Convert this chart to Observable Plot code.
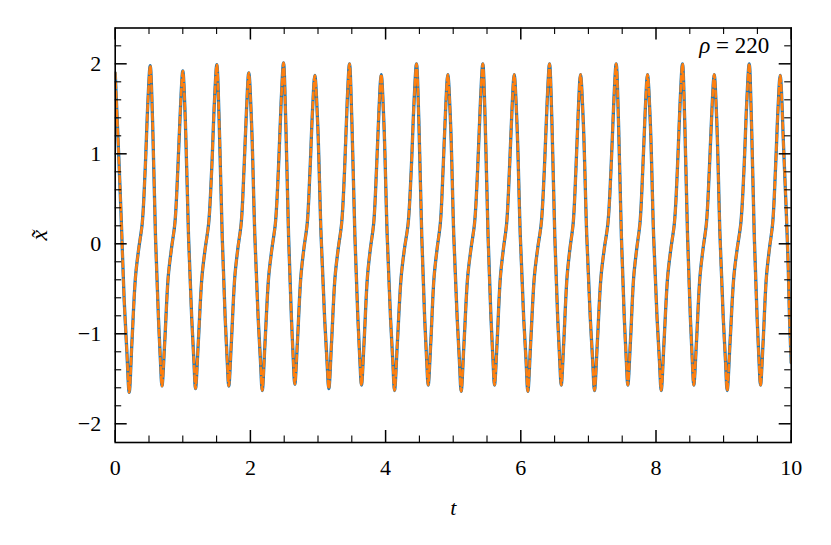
<!DOCTYPE html>
<html>
<head>
<meta charset="utf-8">
<script src="https://cdn.jsdelivr.net/npm/d3@7"></script>
<script src="https://cdn.jsdelivr.net/npm/@observablehq/plot@0.6"></script>
<style>
  html, body { margin: 0; padding: 0; background: #fff; }
  svg { display: block; }
  svg text { font-family: "Liberation Serif", "Times New Roman", serif !important; }
</style>
</head>
<body>
<div id="chart"></div>
<script>
// time samples (t)
const tSamples = [
  0.000, 0.050, 0.089, 0.133, 0.172,
  0.207, 0.247, 0.300, 0.347, 0.400, 0.443, 0.484, 0.518, 0.553, 0.596, 0.640, 0.669,
  0.692, 0.732, 0.784, 0.831, 0.883, 0.926, 0.966, 1.000, 1.038, 1.085, 1.132, 1.164,
  1.188, 1.229, 1.283, 1.330, 1.383, 1.427, 1.468, 1.503, 1.538, 1.583, 1.627, 1.657,
  1.680, 1.718, 1.769, 1.813, 1.864, 1.905, 1.943, 1.976, 2.016, 2.066, 2.115, 2.149,
  2.175, 2.216, 2.270, 2.317, 2.370, 2.414, 2.455, 2.490, 2.523, 2.565, 2.607, 2.635,
  2.657, 2.695, 2.746, 2.790, 2.841, 2.882, 2.920, 2.953, 2.994, 3.046, 3.098, 3.133,
  3.160, 3.200, 3.252, 3.298, 3.350, 3.393, 3.432, 3.466, 3.501, 3.546, 3.590, 3.620,
  3.643, 3.681, 3.731, 3.774, 3.824, 3.865, 3.903, 3.935, 3.974, 4.024, 4.073, 4.106,
  4.132, 4.174, 4.230, 4.278, 4.334, 4.379, 4.421, 4.457, 4.492, 4.535, 4.578, 4.608,
  4.630, 4.668, 4.717, 4.761, 4.810, 4.850, 4.888, 4.920, 4.960, 5.009, 5.059, 5.092,
  5.118, 5.160, 5.214, 5.262, 5.316, 5.361, 5.403, 5.438, 5.473, 5.516, 5.559, 5.589,
  5.611, 5.649, 5.698, 5.742, 5.791, 5.832, 5.870, 5.902, 5.942, 5.993, 6.043, 6.078,
  6.104, 6.146, 6.200, 6.248, 6.303, 6.348, 6.390, 6.425, 6.460, 6.503, 6.546, 6.576,
  6.598, 6.635, 6.684, 6.726, 6.775, 6.815, 6.852, 6.883, 6.924, 6.976, 7.028, 7.063,
  7.090, 7.132, 7.186, 7.234, 7.289, 7.334, 7.376, 7.411, 7.445, 7.488, 7.531, 7.561,
  7.583, 7.621, 7.670, 7.714, 7.763, 7.804, 7.842, 7.874, 7.915, 7.965, 8.016, 8.051,
  8.077, 8.118, 8.172, 8.219, 8.272, 8.316, 8.357, 8.392, 8.425, 8.467, 8.509, 8.537,
  8.559, 8.598, 8.650, 8.695, 8.746, 8.789, 8.828, 8.861, 8.899, 8.947, 8.995, 9.028,
  9.053, 9.095, 9.151, 9.200, 9.255, 9.301, 9.343, 9.379, 9.412, 9.454, 9.496, 9.524,
  9.546, 9.584, 9.633, 9.677, 9.726, 9.767, 9.805, 9.837, 9.890, 9.930, 9.956, 9.975, 10.000
];

// reference trajectory x~(t)
const xReference = [
  1.90, 1.02, 0.28, -0.63, -1.19,
  -1.65, -1.10, -0.37, -0.06, 0.23, 0.82, 1.58, 1.98, 1.36, 0.08, -0.83, -1.30,
  -1.58, -1.10, -0.37, -0.06, 0.23, 0.82, 1.52, 1.92, 1.36, 0.08, -0.83, -1.30,
  -1.61, -1.10, -0.37, -0.06, 0.23, 0.82, 1.58, 1.99, 1.36, 0.08, -0.83, -1.30,
  -1.58, -1.10, -0.37, -0.06, 0.23, 0.82, 1.50, 1.90, 1.36, 0.08, -0.83, -1.30,
  -1.63, -1.10, -0.37, -0.06, 0.23, 0.82, 1.58, 2.01, 1.36, 0.08, -0.83, -1.30,
  -1.56, -1.10, -0.37, -0.06, 0.23, 0.82, 1.50, 1.87, 1.36, 0.08, -0.83, -1.30,
  -1.61, -1.10, -0.37, -0.06, 0.23, 0.82, 1.58, 2.00, 1.36, 0.08, -0.83, -1.30,
  -1.57, -1.10, -0.37, -0.06, 0.23, 0.82, 1.50, 1.88, 1.36, 0.08, -0.83, -1.30,
  -1.63, -1.10, -0.37, -0.06, 0.23, 0.82, 1.58, 2.00, 1.36, 0.08, -0.83, -1.30,
  -1.57, -1.10, -0.37, -0.06, 0.23, 0.82, 1.50, 1.88, 1.36, 0.08, -0.83, -1.30,
  -1.64, -1.10, -0.37, -0.06, 0.23, 0.82, 1.58, 2.00, 1.36, 0.08, -0.83, -1.30,
  -1.57, -1.10, -0.37, -0.06, 0.23, 0.82, 1.50, 1.88, 1.36, 0.08, -0.83, -1.30,
  -1.64, -1.10, -0.37, -0.06, 0.23, 0.82, 1.58, 2.00, 1.36, 0.08, -0.83, -1.30,
  -1.57, -1.10, -0.37, -0.06, 0.23, 0.82, 1.50, 1.88, 1.36, 0.08, -0.83, -1.30,
  -1.63, -1.10, -0.37, -0.06, 0.23, 0.82, 1.58, 2.00, 1.36, 0.08, -0.83, -1.30,
  -1.57, -1.10, -0.37, -0.06, 0.23, 0.82, 1.50, 1.88, 1.36, 0.08, -0.83, -1.30,
  -1.63, -1.10, -0.37, -0.06, 0.23, 0.82, 1.58, 2.00, 1.36, 0.08, -0.83, -1.30,
  -1.57, -1.10, -0.37, -0.06, 0.23, 0.82, 1.50, 1.88, 1.36, 0.08, -0.83, -1.30,
  -1.63, -1.10, -0.37, -0.06, 0.23, 0.82, 1.58, 2.00, 1.36, 0.08, -0.83, -1.30,
  -1.57, -1.10, -0.37, -0.06, 0.23, 0.82, 1.50, 1.87, 1.03, 0.30, -0.26, -0.82, -1.32
];

// model prediction: indistinguishable from the reference in the picture
const xModel = xReference.slice();

const xMajorTicks = [0, 2, 4, 6, 8, 10];
const xMinorTicks = [0.5, 1, 1.5, 2.5, 3, 3.5, 4.5, 5, 5.5, 6.5, 7, 7.5, 8.5, 9, 9.5];
const yMajorTicks = [-2, -1, 0, 1, 2];
const yMinorTicks = [-1.8, -1.6, -1.4, -1.2, -0.8, -0.6, -0.4, -0.2, 0.2, 0.4, 0.6, 0.8, 1.2, 1.4, 1.6, 1.8, 2.2];
const annotation = "ρ = 220";

const refData = tSamples.map((t, i) => ({t, x: xReference[i]}));
const modelData = tSamples.map((t, i) => ({t, x: xModel[i]}));

const W = 831, H = 545;
const mL = 114.7, mR = 40.3, mT = 27.5, mB = 103;
const fw = W - mL - mR, fh = H - mT - mB;
const majorLen = 12, minorLen = 6.5;
const FONT = "Liberation Serif";
const fmt = d => (d < 0 ? "\u2212" + Math.abs(d) : String(d));

const plot = Plot.plot({
  width: W,
  height: H,
  marginLeft: mL,
  marginRight: mR,
  marginTop: mT,
  marginBottom: mB,
  style: {fontFamily: FONT, background: "white", overflow: "visible"},
  x: {domain: [0, 10], axis: null},
  y: {domain: [-2.208, 2.398], axis: null},
  marks: [
    Plot.line(refData, {x: "t", y: "x", stroke: "#1f77b4", strokeWidth: 3.3, curve: "catmull-rom", clip: true}),
    Plot.line(modelData, {x: "t", y: "x", stroke: "#ff7f0e", strokeWidth: 2.6, strokeDasharray: "6,3.4", curve: "catmull-rom", clip: true}),
    // ticks (inward, mirrored)
    Plot.tickX(xMajorTicks, {x: d => d, stroke: "black", strokeWidth: 1.5, insetTop: fh - majorLen}),
    Plot.tickX(xMinorTicks, {x: d => d, stroke: "black", strokeWidth: 1.1, insetTop: fh - minorLen}),
    Plot.tickX(xMajorTicks, {x: d => d, stroke: "black", strokeWidth: 1.5, insetBottom: fh - majorLen}),
    Plot.tickX(xMinorTicks, {x: d => d, stroke: "black", strokeWidth: 1.1, insetBottom: fh - minorLen}),
    Plot.tickY(yMajorTicks, {y: d => d, stroke: "black", strokeWidth: 1.5, insetRight: fw - majorLen}),
    Plot.tickY(yMinorTicks, {y: d => d, stroke: "black", strokeWidth: 1.1, insetRight: fw - minorLen}),
    Plot.tickY(yMajorTicks, {y: d => d, stroke: "black", strokeWidth: 1.5, insetLeft: fw - majorLen}),
    Plot.tickY(yMinorTicks, {y: d => d, stroke: "black", strokeWidth: 1.1, insetLeft: fw - minorLen}),
    Plot.frame({stroke: "black", strokeWidth: 1.6}),
    // tick labels
    Plot.text(xMajorTicks, {x: d => d, text: d => fmt(d), frameAnchor: "bottom", lineAnchor: "bottom", dy: 32, fontSize: 22, fontFamily: FONT, fill: "black"}),
    Plot.text(yMajorTicks, {y: d => d, text: d => fmt(d), frameAnchor: "left", textAnchor: "end", lineAnchor: "middle", dx: -14, fontSize: 22, fontFamily: FONT, fill: "black"}),
    // axis labels
    Plot.text(["t"], {text: d => d, frameAnchor: "bottom", lineAnchor: "bottom", dy: 72, fontSize: 22, fontStyle: "italic", fontFamily: FONT, fill: "black"}),
    Plot.text(["x\u0303"], {text: d => d, frameAnchor: "left", lineAnchor: "bottom", textAnchor: "middle", rotate: -90, dx: -68, fontSize: 24, fontStyle: "italic", fontFamily: FONT, fill: "black"}),
    // annotation
    Plot.text([annotation], {text: d => d, frameAnchor: "top-right", textAnchor: "end", lineAnchor: "bottom", dx: -22, dy: 25, fontSize: 23, fontFamily: FONT, fill: "black"})
  ]
});

// italicise the rho symbol in the annotation
d3.select(plot).selectAll("text").filter(function() { return this.textContent === annotation; })
  .each(function() {
    const el = d3.select(this);
    el.text(null);
    el.append("tspan").attr("font-style", "italic").text("ρ");
    el.append("tspan").text(" = 220");
  });

document.getElementById("chart").appendChild(plot);
</script>
</body>
</html>
